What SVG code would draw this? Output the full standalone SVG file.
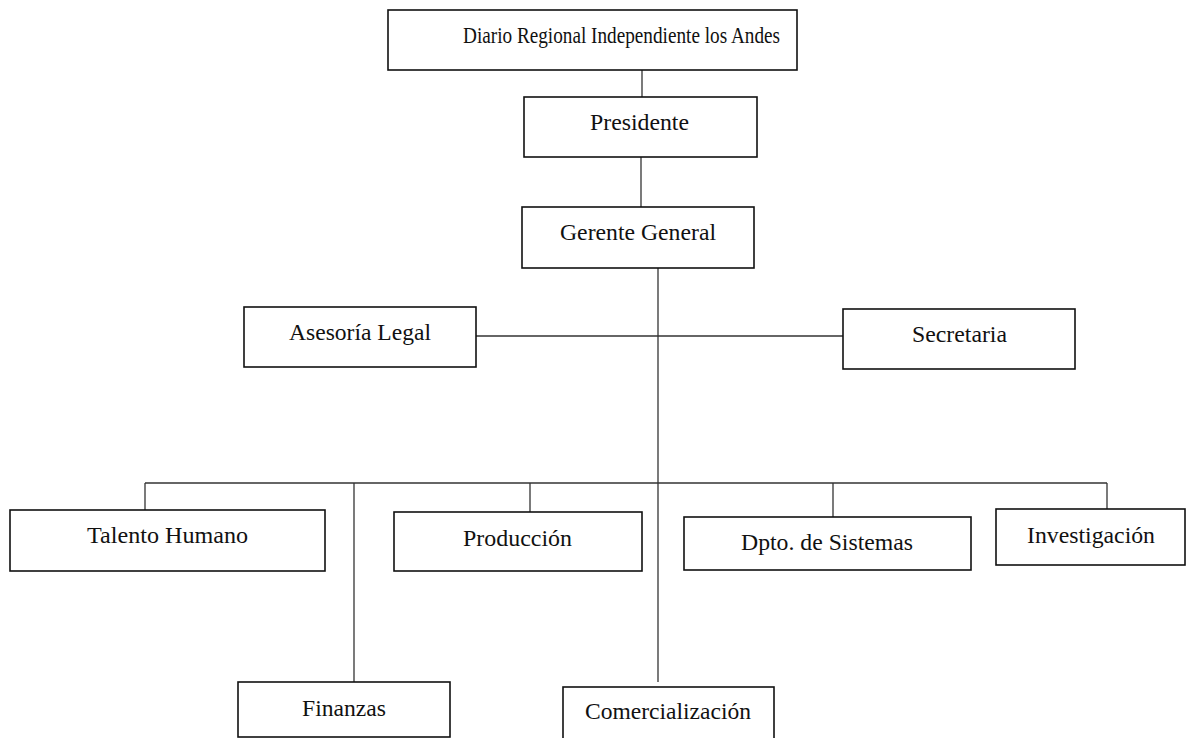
<svg xmlns="http://www.w3.org/2000/svg" width="1188" height="738" viewBox="0 0 1188 738">
<style>
.box{fill:#fff;stroke:#111;stroke-width:1.6}
.lbl{font-family:"Liberation Serif","Times New Roman",serif;font-size:23px;fill:#111}
.con{stroke:#333;stroke-width:1.3;fill:none}
</style>
<rect width="1188" height="738" fill="#fff"/>
<g id="connectors">
<line class="con" x1="642" y1="70" x2="642" y2="97"/>
<line class="con" x1="641" y1="157" x2="641" y2="207"/>
<line class="con" x1="658" y1="268" x2="658" y2="682"/>
<line class="con" x1="476" y1="336" x2="843" y2="336"/>
<line class="con" x1="145" y1="483" x2="1107" y2="483"/>
<line class="con" x1="145" y1="483" x2="145" y2="510"/>
<line class="con" x1="354" y1="483" x2="354" y2="682"/>
<line class="con" x1="530" y1="483" x2="530" y2="512"/>
<line class="con" x1="833" y1="483" x2="833" y2="517"/>
<line class="con" x1="1107" y1="483" x2="1107" y2="509"/>
</g>
<g id="diario">
<rect class="box" x="388" y="10" width="409" height="60"/>
<text class="lbl" x="463" y="43" font-size="21" textLength="317" lengthAdjust="spacingAndGlyphs">Diario Regional Independiente los Andes</text>
</g>
<g id="presidente">
<rect class="box" x="524" y="97" width="233" height="60"/>
<text class="lbl" x="590" y="130" textLength="99" lengthAdjust="spacingAndGlyphs">Presidente</text>
</g>
<g id="gerente">
<rect class="box" x="522" y="207" width="232" height="61"/>
<text class="lbl" x="560" y="240" textLength="156" lengthAdjust="spacingAndGlyphs">Gerente General</text>
</g>
<g id="asesoria">
<rect class="box" x="244" y="307" width="232" height="60"/>
<text class="lbl" x="289" y="340" textLength="142" lengthAdjust="spacingAndGlyphs">Asesoría Legal</text>
</g>
<g id="secretaria">
<rect class="box" x="843" y="309" width="232" height="60"/>
<text class="lbl" x="912" y="342" textLength="95" lengthAdjust="spacingAndGlyphs">Secretaria</text>
</g>
<g id="talento">
<rect class="box" x="10" y="510" width="315" height="61"/>
<text class="lbl" x="87" y="543" textLength="161" lengthAdjust="spacingAndGlyphs">Talento Humano</text>
</g>
<g id="produccion">
<rect class="box" x="394" y="512" width="248" height="59"/>
<text class="lbl" x="463" y="546" textLength="109" lengthAdjust="spacingAndGlyphs">Producción</text>
</g>
<g id="sistemas">
<rect class="box" x="684" y="517" width="287" height="53"/>
<text class="lbl" x="741" y="550" textLength="172" lengthAdjust="spacingAndGlyphs">Dpto. de Sistemas</text>
</g>
<g id="investigacion">
<rect class="box" x="996" y="509" width="189" height="56"/>
<text class="lbl" x="1027" y="543" textLength="128" lengthAdjust="spacingAndGlyphs">Investigación</text>
</g>
<g id="finanzas">
<rect class="box" x="238" y="682" width="212" height="55"/>
<text class="lbl" x="302" y="716" textLength="84" lengthAdjust="spacingAndGlyphs">Finanzas</text>
</g>
<g id="comercializacion">
<rect class="box" x="563" y="687" width="211" height="55"/>
<text class="lbl" x="585" y="719" textLength="166" lengthAdjust="spacingAndGlyphs">Comercialización</text>
</g>
</svg>
